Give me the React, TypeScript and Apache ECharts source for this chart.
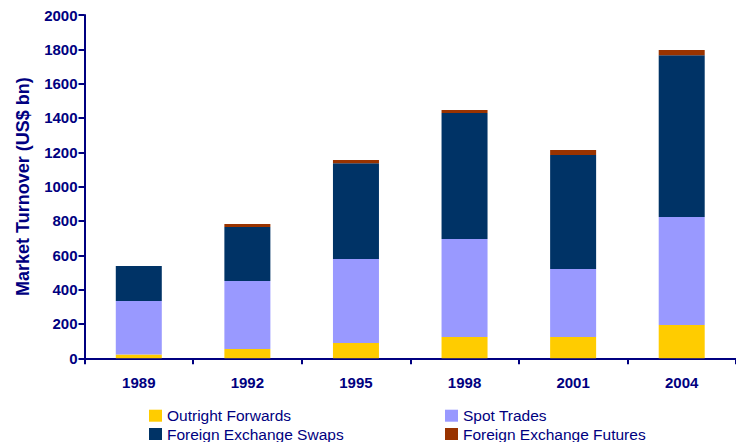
import React, { useEffect, useRef } from "react";
import * as echarts from "echarts";

const years = ["1989", "1992", "1995", "1998", "2001", "2004"];
const outrightForwards = [22, 54, 89, 124, 124, 194];
const spotTrades = [312, 396, 489, 571, 396, 629];
const fxSwaps = [204, 315, 559, 734, 664, 943];
const fxFutures = [0, 17, 18, 17, 29, 30];
const yTicks = { min: 0, max: 2000, interval: 200 };

const NAVY = "#000080";
const FONT = "'Liberation Sans', Arial, sans-serif";

export default function App() {
  const ref = useRef<HTMLDivElement>(null);
  useEffect(() => {
    if (!ref.current) return;
    const chart = echarts.init(ref.current, undefined, { renderer: "svg" });
    const mk = (name: string, data: number[], color: string) => ({
      name,
      type: "bar",
      stack: "total",
      data,
      barWidth: 46,
      itemStyle: { color },
      emphasis: { disabled: true },
    });
    const legendText = { color: NAVY, fontSize: 15.5, fontFamily: FONT, lineHeight: 16 };
    const lg = (name: string, left: number, top: number) => ({
      data: [name],
      left,
      top,
      icon: "rect",
      itemWidth: 13,
      itemHeight: 12,
      itemGap: 0,
      padding: 0,
      textStyle: legendText,
      selectedMode: false,
    });
    chart.setOption({
      animation: false,
      backgroundColor: "#ffffff",
      grid: { left: 84.5, top: 15, height: 343.3, width: 663 },
      legend: [
        lg("Outright Forwards", 149, 407.7),
        lg("Foreign Exchange Swaps", 149, 426),
        lg("Spot Trades", 445, 407.7),
        lg("Foreign Exchange Futures", 445, 426),
      ],
      xAxis: {
        type: "category",
        data: years,
        boundaryGap: true,
        axisLine: { lineStyle: { color: NAVY, width: 2 } },
        axisTick: { show: true, length: 6, lineStyle: { color: NAVY, width: 2 } },
        axisLabel: {
          color: NAVY,
          fontWeight: "bold",
          fontSize: 15,
          fontFamily: FONT,
          margin: 17,
        },
      },
      yAxis: {
        type: "value",
        min: yTicks.min,
        max: yTicks.max,
        interval: yTicks.interval,
        name: "Market Turnover (US$ bn)",
        nameLocation: "middle",
        nameGap: 53,
        nameTextStyle: { color: NAVY, fontWeight: "bold", fontSize: 18, fontFamily: FONT },
        axisLine: { show: true, lineStyle: { color: NAVY, width: 2 } },
        axisTick: { show: true, length: 6, lineStyle: { color: NAVY, width: 2 } },
        axisLabel: {
          color: NAVY,
          fontWeight: "bold",
          fontSize: 15,
          fontFamily: FONT,
          margin: 7,
          formatter: (v: number) => String(v),
        },
        splitLine: { show: false },
      },
      series: [
        mk("Outright Forwards", outrightForwards, "#FFCC00"),
        mk("Spot Trades", spotTrades, "#9999FF"),
        mk("Foreign Exchange Swaps", fxSwaps, "#003366"),
        mk("Foreign Exchange Futures", fxFutures, "#993300"),
      ],
    });
    return () => chart.dispose();
  }, []);
  return (
    <div
      ref={ref}
      style={{ width: 736, height: 442, position: "fixed", left: 0, top: 0, background: "#fff" }}
    />
  );
}
